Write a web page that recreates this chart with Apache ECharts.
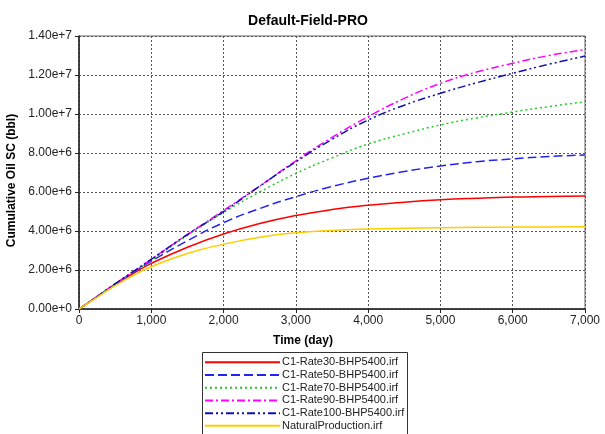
<!DOCTYPE html>
<html>
<head>
<meta charset="utf-8">
<script src="https://cdn.jsdelivr.net/npm/echarts@6/dist/echarts.min.js"></script>
<style>
  html, body { margin: 0; padding: 0; background: #fff; }
  #chart { width: 605px; height: 434px; }
</style>
</head>
<body>
<div id="chart"></div>
<script>
// time axis (day)
const days = [0, 250, 500, 750, 1000, 1500, 2000, 2500, 3000, 3500, 4000, 4500, 5000, 5500, 6000, 6500, 7000];

// cumulative oil, millions of bbl
const rate30 = [0, 0.62, 1.25, 1.82, 2.34, 3.17, 3.85, 4.38, 4.79, 5.10, 5.32, 5.48, 5.60, 5.68, 5.74, 5.77, 5.80];
const rate50 = [0, 0.63, 1.27, 1.88, 2.45, 3.50, 4.43, 5.15, 5.76, 6.28, 6.70, 7.05, 7.33, 7.55, 7.70, 7.82, 7.90];
const rate70 = [0, 0.63, 1.28, 1.90, 2.50, 3.77, 4.95, 6.00, 6.95, 7.75, 8.46, 8.98, 9.44, 9.80, 10.10, 10.38, 10.63];
const rate90 = [0, 0.64, 1.29, 1.92, 2.55, 3.82, 5.05, 6.30, 7.60, 8.80, 9.86, 10.80, 11.57, 12.15, 12.60, 13.00, 13.30];
const rate100 = [0, 0.64, 1.29, 1.92, 2.55, 3.82, 5.00, 6.30, 7.55, 8.70, 9.69, 10.45, 11.06, 11.60, 12.09, 12.55, 12.97];
const natural = [0, 0.60, 1.20, 1.72, 2.17, 2.85, 3.32, 3.68, 3.91, 4.03, 4.10, 4.14, 4.17, 4.19, 4.20, 4.21, 4.22];

const names = ['C1-Rate30-BHP5400.irf', 'C1-Rate50-BHP5400.irf', 'C1-Rate70-BHP5400.irf',
  'C1-Rate90-BHP5400.irf', 'C1-Rate100-BHP5400.irf', 'NaturalProduction.irf'];

const font = 'Liberation Sans, Arial, sans-serif';

function pts(vals) {
  return days.map((d, i) => [d, vals[i] * 1e6]);
}

function mk(name, vals, color, dash) {
  return {
    name: name,
    type: 'line',
    smooth: true,
    symbol: 'none',
    data: pts(vals),
    lineStyle: { color: color, width: 1.5, type: dash },
    itemStyle: { color: color }
  };
}

const c = echarts.init(document.getElementById('chart'));
c.setOption({
  animation: false,
  textStyle: { fontFamily: font },
  title: {
    text: 'Default-Field-PRO',
    left: 303, top: 9, textAlign: 'center',
    textStyle: { fontFamily: font, fontSize: 14, fontWeight: 'bold', color: '#000' }
  },
  grid: {
    left: 79, right: 20, top: 36, bottom: 125,
    outerBoundsMode: 'none',
    show: true, borderColor: '#666', borderWidth: 1
  },
  // legend frame runs off the bottom edge like the original
  graphic: [{
    type: 'rect',
    shape: { x: 202.5, y: 352.5, width: 205, height: 100 },
    style: { fill: 'none', stroke: '#333', lineWidth: 1 }
  }],
  legend: {
    orient: 'vertical',
    left: 204, top: 356,
    padding: 0,
    itemWidth: 75, itemHeight: 8, itemGap: 0,
    itemStyle: { opacity: 0 },
    textStyle: { fontFamily: font, fontSize: 11, color: '#222', lineHeight: 12.7, padding: [0, 0, 0, -3] },
    data: names
  },
  xAxis: {
    type: 'value', min: 0, max: 7000, interval: 1000,
    name: 'Time (day)', nameLocation: 'middle', nameGap: 26,
    nameTextStyle: { fontFamily: font, fontSize: 12, fontWeight: 'bold', color: '#000', padding: [0, 58, 0, 0] },
    axisLine: { show: true, lineStyle: { color: '#222', width: 1.5 } },
    axisTick: { show: true, length: 4, lineStyle: { color: '#222' } },
    axisLabel: { fontSize: 12, color: '#222', margin: 6,
      formatter: v => v.toLocaleString('en-US') },
    splitLine: { show: true, lineStyle: { color: '#555', type: [2, 2] } }
  },
  yAxis: {
    type: 'value', min: 0, max: 1.4e7, interval: 2e6,
    name: 'Cumulative Oil SC (bbl)', nameLocation: 'middle', nameGap: 36,
    nameTextStyle: { fontFamily: font, fontSize: 12, fontWeight: 'bold', color: '#000', padding: [0, 16, 0, 0] },
    axisLine: { show: true, lineStyle: { color: '#222', width: 1.5 } },
    axisTick: { show: true, length: 4, lineStyle: { color: '#222' } },
    axisLabel: { fontSize: 12, color: '#222', margin: 7,
      formatter: v => v.toExponential(2) },
    splitLine: { show: true, lineStyle: { color: '#555', type: [2, 2] } }
  },
  series: [
    mk(names[0], rate30, '#ff0000', 'solid'),
    mk(names[1], rate50, '#2424f0', [9, 4]),
    mk(names[2], rate70, '#22cc22', [2, 3]),
    mk(names[3], rate90, '#ff00ff', [8, 3, 2, 3]),
    mk(names[4], rate100, '#1010b0', [8, 3, 2, 3, 2, 3]),
    mk(names[5], natural, '#ffcc00', 'solid')
  ]
});
</script>
</body>
</html>
